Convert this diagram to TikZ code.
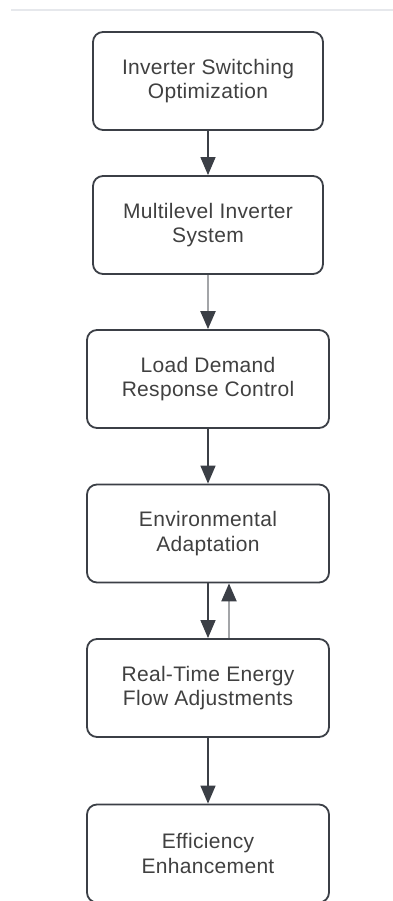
\documentclass[tikz,border=0pt]{standalone}
\usepackage{fontspec}
\setmainfont{Liberation Sans}[LetterSpace=1.5]
\usetikzlibrary{arrows.meta}
\definecolor{boxline}{HTML}{3B3F46}
\definecolor{textgray}{HTML}{404040}
\definecolor{rulegray}{HTML}{E6E8EC}
\definecolor{lightarrow}{HTML}{A3A5A8}
\begin{document}
\begin{tikzpicture}[x=1pt,y=-1pt,
    box/.style={draw=boxline, line width=1.8pt, rounded corners=10pt,
        minimum height=98pt, inner sep=0pt, align=center, text=textgray,
        font=\fontsize{21}{24.5}\selectfont},
    narrowbox/.style={box, minimum width=230pt},
    widebox/.style={box, minimum width=242pt},
    flow/.style={draw=boxline, line width=1.3pt,
        -{Triangle[length=18pt,width=15pt]}},
    backflow/.style={flow, draw=lightarrow, line width=2.2pt,
        -{Triangle[length=18pt,width=15pt,fill=boxline,color=boxline]}}]
    \useasboundingbox (0,0) rectangle (393,901);

    % Top rule
    \draw[rulegray, line width=2pt] (11,10) -- (393,10);

    % Boxes
    \node[narrowbox] (switching) at (208,81) {Inverter Switching\\Optimization};
    \node[narrowbox] (multilevel) at (208,225) {Multilevel Inverter\\System};
    \node[widebox] (demand) at (208,379) {Load Demand\\Response Control};
    \node[widebox] (environ) at (208,533.5) {Environmental\\Adaptation};
    \node[widebox] (realtime) at (208,688) {Real-Time Energy\\Flow Adjustments};
    \node[widebox] (efficiency) at (208,853.5) {Efficiency\\Enhancement};

    % Arrows
    \draw[flow] (switching) -- (multilevel);
    \draw[backflow] (multilevel) -- (demand);
    \draw[flow] (demand) -- (environ);
    \draw[flow] (environ) -- (realtime);
    \draw[backflow] ([xshift=21pt]realtime.north) -- ([xshift=21pt]environ.south);
    \draw[flow] (realtime) -- (efficiency);
\end{tikzpicture}
\end{document}
